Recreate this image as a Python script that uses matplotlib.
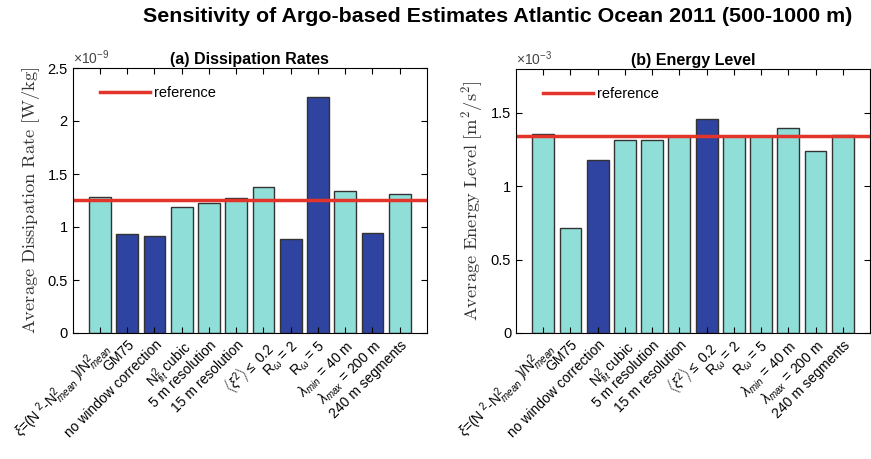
import numpy as np
import matplotlib.pyplot as plt
import matplotlib.ticker as ticker

plt.rcParams['font.family'] = ['Liberation Sans', 'DejaVu Sans']
plt.rcParams['mathtext.fontset'] = 'custom'
plt.rcParams['mathtext.rm'] = 'Liberation Sans'
plt.rcParams['mathtext.it'] = 'Liberation Sans:italic'

labels = [r'$\xi$=(N $^2$-N$^2_{mean}$ )/N$^2_{mean}$', 'GM75', 'no window correction',
          r'N$^2_{fit}$ cubic', '5 m resolution', '15 m resolution',
          r'$\langle\xi^2\rangle \leq$ 0.2', r'R$_\omega$ = 2', r'R$_\omega$ = 5',
          r'$\lambda_{min}$ = 40 m', r'$\lambda_{max}$ = 200 m', '240 m segments']

# dissipation rate, units of 1e-9 W/kg
diss = [1.283, 0.934, 0.918, 1.186, 1.223, 1.270, 1.380, 0.887, 2.223, 1.336, 0.943, 1.308]
diss_ref = 1.252
diss_dark = [2, 3, 8, 9, 11]

# energy level, units of 1e-3 m^2/s^2
energy = [1.357, 0.718, 1.178, 1.317, 1.317, 1.345, 1.457, 1.345, 1.345, 1.400, 1.244, 1.353]
energy_ref = 1.344
energy_dark = [3, 7]

light = '#8fdfd8'
dark = '#2f43a0'
red = '#e3342a'

fig = plt.figure(figsize=[8.71, 4.59], dpi=100)
ax1 = fig.add_axes([72.7/871, 1-333/459, 354.3/871, 265/459])
ax2 = fig.add_axes([516/871, 1-333/459, 354/871, 264/459])


def draw(ax, vals, ref, darkset, ymax, yticks, expo, ylab, title):
    x = np.arange(1, len(vals)+1)
    cols = [dark if i in darkset else light for i in x]
    ax.bar(x, vals, width=0.8, color=cols, edgecolor='#333333', linewidth=1)
    ax.axhline(ref, color=red, linewidth=2.5, label='reference')
    ax.set_xlim(0, 13)
    ax.set_ylim(0, ymax)
    ax.set_yticks(yticks)
    ax.yaxis.set_major_formatter(ticker.FuncFormatter(lambda v, pos: '%g' % v))
    ax.set_xticks(x)
    ax.set_xticklabels(labels, rotation=45, ha='right', rotation_mode='anchor', fontsize=10)
    ax.tick_params(direction='in', top=True, right=True, labelsize=10.5, length=4)
    ax.tick_params(axis='x', labelsize=10)
    ax.text(0.0, 1.005, r'$\times10^{%d}$' % expo, transform=ax.transAxes,
            fontsize=10, color='#444444', va='bottom', ha='left')
    ax.set_ylabel(ylab, fontsize=13.3, color='#333333', labelpad=4)
    ax.yaxis.label.set_math_fontfamily('cm')
    ax.set_title(title, fontsize=11.5, fontweight='bold', pad=3)
    ax.legend(loc='upper left', frameon=False, fontsize=10.5, handlelength=3.4,
              handletextpad=0.3, bbox_to_anchor=(0.04, 0.98))


draw(ax1, diss, diss_ref, diss_dark, 2.5, [0, 0.5, 1, 1.5, 2, 2.5], -9,
     r'$\mathrm{Average\ Dissipation\ Rate\ [W/kg]}$', '(a) Dissipation Rates')
draw(ax2, energy, energy_ref, energy_dark, 1.8, [0, 0.5, 1, 1.5], -3,
     r'$\mathrm{Average\ Energy\ Level\ [m^2/s^2]}$', '(b) Energy Level')

fig.suptitle('Sensitivity of Argo-based Estimates Atlantic Ocean 2011 (500-1000 m)',
             fontsize=15.4, fontweight='bold', x=0.571, y=0.985)

fig.savefig('out.png', dpi=100)
